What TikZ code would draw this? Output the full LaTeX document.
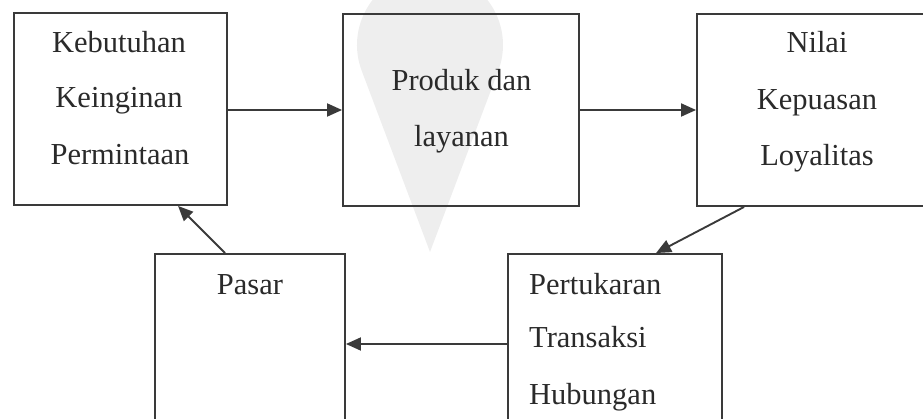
\documentclass[tikz,border=0pt]{standalone}
\usepackage{fontspec}
\setmainfont{Liberation Serif}
\usetikzlibrary{arrows.meta,calc}
\definecolor{ink}{HTML}{3A3A3A}
\definecolor{txt}{HTML}{2A2A2A}
\definecolor{wmgray}{HTML}{EEEEEE}
\tikzset{
  box/.style={draw=ink,line width=1.9pt,rectangle,inner sep=0pt},
  lbl/.style={anchor=base,text=txt,inner sep=0pt,font=\fontsize{30.5}{56}\selectfont},
  lbll/.style={lbl,anchor=base west},
  conn/.style={draw=ink,line width=1.9pt,-{Triangle[length=15pt,width=13pt]}}
}
\begin{document}
\begin{tikzpicture}[x=1pt,y=-1pt]
\useasboundingbox (0,0) rectangle (923,419);
\clip (0,0) rectangle (923,419);
% watermark
\fill[wmgray] (430,252) -- ($(430,45)+(159.4:73)$) arc[start angle=159.4,end angle=380.6,radius=73] -- cycle;
% boxes
\node[box,minimum width=213pt,minimum height=192pt] (b1) at (120.5,109) {};
\node[box,minimum width=236pt,minimum height=192pt] (b2) at (461,110) {};
\node[box,minimum width=243pt,minimum height=192pt] (b3) at (818.5,110) {};
\node[box,minimum width=190pt,minimum height=186pt] (pasar) at (250,347) {};
\node[box,minimum width=214pt,minimum height=186pt] (pert) at (615,347) {};
% texts
\node[lbl] (t1a) at (119,53) {Kebutuhan};
\node[lbl] (t1b) at (119,108) {Keinginan};
\node[lbl] (t1c) at (120,165) {Permintaan};
\node[lbl] (t2a) at (461.5,91) {Produk dan};
\node[lbl] (t2b) at (461.5,147) {layanan};
\node[lbl] (t3a) at (817,53) {Nilai};
\node[lbl] (t3b) at (817,110) {Kepuasan};
\node[lbl] (t3c) at (817,166) {Loyalitas};
\node[lbl] (t4a) at (250,295) {Pasar};
\node[lbll] (t5a) at (529,295) {Pertukaran};
\node[lbll] (t5b) at (529,348) {Transaksi};
\node[lbll] (t5c) at (529,404) {Hubungan};
% connectors
\draw[conn] (b1.east |- b2.west) -- (b2.west);
\draw[conn] (b2.east) -- (b3.west);
\draw[conn] ([xshift=48pt]b3.south west) -- ([xshift=149pt]pert.north west);
\draw[conn] ([yshift=3pt]pert.west) -- ([yshift=3pt]pasar.east);
\draw[conn] ([xshift=71pt]pasar.north west) -- ([xshift=165pt]b1.south west);
\end{tikzpicture}
\end{document}
